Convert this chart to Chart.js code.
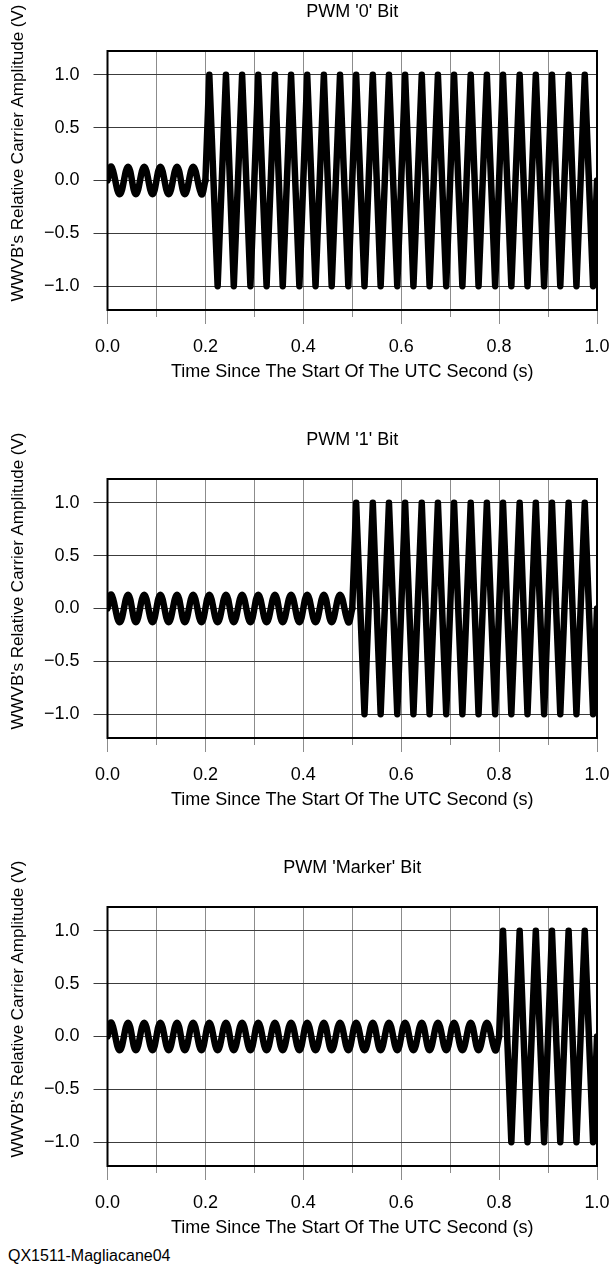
<!DOCTYPE html>
<html>
<head>
<meta charset="utf-8">
<title>WWVB PWM bits</title>
<script src="https://cdn.jsdelivr.net/npm/chart.js@4.4.0/dist/chart.umd.min.js"></script>
<style>
  body { margin: 0; background: #fff; }
  #page { position: relative; width: 611px; height: 1269px; }
  #page canvas { position: absolute; left: 0; }
  #credit { position: absolute; left: 8px; top: 1247px; font: 16px "Liberation Sans", Arial, sans-serif; color: #000; }
</style>
</head>
<body>
<div id="page">
  <canvas id="bit0" width="611" height="390" style="top:0"></canvas>
  <canvas id="bit1" width="611" height="390" style="top:428px"></canvas>
  <canvas id="bitMarker" width="611" height="390" style="top:856px"></canvas>
  <div id="credit">QX1511-Magliacane04</div>
</div>
<script>
// carrier peaks / troughs (s), plus both ends of the second
const extremaTimes = [0.000,
  0.008, 0.025, 0.042, 0.058, 0.075, 0.092, 0.108, 0.125, 0.142, 0.158, 0.175, 0.192,
  0.208, 0.225, 0.242, 0.258, 0.275, 0.292, 0.308, 0.325, 0.342, 0.358, 0.375, 0.392,
  0.408, 0.425, 0.442, 0.458, 0.475, 0.492, 0.508, 0.525, 0.542, 0.558, 0.575, 0.592,
  0.608, 0.625, 0.642, 0.658, 0.675, 0.692, 0.708, 0.725, 0.742, 0.758, 0.775, 0.792,
  0.808, 0.825, 0.842, 0.858, 0.875, 0.892, 0.908, 0.925, 0.942, 0.958, 0.975, 0.992,
  1.000];

const xTickValues = [0, 0.1, 0.2, 0.3, 0.4, 0.5, 0.6, 0.7, 0.8, 0.9, 1.0];
const xTickLabels = ['0.0', '', '0.2', '', '0.4', '', '0.6', '', '0.8', '', '1.0'];
const yTickValues = [-1, -0.5, 0, 0.5, 1];
const yTickLabels = ['\u22121.0', '\u22120.5', '0.0', '0.5', '1.0'];

const panelTitles = ["PWM '0' Bit", "PWM '1' Bit", "PWM 'Marker' Bit"];
const bitEdges = [0.2, 0.5, 0.8]; // full carrier comes back here

// amplitude at each entry of extremaTimes
const zeroBitValues = [0,
  0.13, -0.13, 0.13, -0.13, 0.13, -0.13, 0.13, -0.13, 0.13, -0.13, 0.13, -0.13,
  1, -1, 1, -1, 1, -1, 1, -1, 1, -1, 1, -1,
  1, -1, 1, -1, 1, -1, 1, -1, 1, -1, 1, -1,
  1, -1, 1, -1, 1, -1, 1, -1, 1, -1, 1, -1,
  1, -1, 1, -1, 1, -1, 1, -1, 1, -1, 1, -1,
  0];
const oneBitValues = [0,
  0.13, -0.13, 0.13, -0.13, 0.13, -0.13, 0.13, -0.13, 0.13, -0.13, 0.13, -0.13,
  0.13, -0.13, 0.13, -0.13, 0.13, -0.13, 0.13, -0.13, 0.13, -0.13, 0.13, -0.13,
  0.13, -0.13, 0.13, -0.13, 0.13, -0.13, 1, -1, 1, -1, 1, -1,
  1, -1, 1, -1, 1, -1, 1, -1, 1, -1, 1, -1,
  1, -1, 1, -1, 1, -1, 1, -1, 1, -1, 1, -1,
  0];
const markerBitValues = [0,
  0.13, -0.13, 0.13, -0.13, 0.13, -0.13, 0.13, -0.13, 0.13, -0.13, 0.13, -0.13,
  0.13, -0.13, 0.13, -0.13, 0.13, -0.13, 0.13, -0.13, 0.13, -0.13, 0.13, -0.13,
  0.13, -0.13, 0.13, -0.13, 0.13, -0.13, 0.13, -0.13, 0.13, -0.13, 0.13, -0.13,
  0.13, -0.13, 0.13, -0.13, 0.13, -0.13, 0.13, -0.13, 0.13, -0.13, 0.13, -0.13,
  1, -1, 1, -1, 1, -1, 1, -1, 1, -1, 1, -1,
  0];

const yTitle = "WWVB's Relative Carrier Amplitude (V)";

Chart.defaults.font.family = "'Liberation Sans', Arial, sans-serif";
Chart.defaults.font.size = 18;
Chart.defaults.color = '#000';

const gridGrey = '#8c8c8c';
const gridDark = '#3c3c3c';

// box round the plot, the short minor ticks under it, and the y title
// (which sits a bit above the plot's middle in the original)
const framePlugin = {
  id: 'frame',
  afterDatasetsDraw(chart) {
    const { ctx, chartArea: a, scales: { x } } = chart;
    ctx.save();
    ctx.strokeStyle = gridGrey;
    ctx.lineWidth = 1;
    xTickValues.forEach((v, i) => {
      if (xTickLabels[i]) return;
      const px = Math.round(x.getPixelForValue(v)) + 0.5;
      ctx.beginPath();
      ctx.moveTo(px, a.bottom);
      ctx.lineTo(px, a.bottom + 7);
      ctx.stroke();
    });
    ctx.strokeStyle = '#000';
    ctx.lineWidth = 2;
    ctx.strokeRect(a.left, a.top, a.right - a.left, a.bottom - a.top);

    ctx.translate(18, 153);
    ctx.rotate(-Math.PI / 2);
    ctx.font = "17px 'Liberation Sans', Arial, sans-serif";
    ctx.fillStyle = '#000';
    ctx.textAlign = 'center';
    ctx.textBaseline = 'middle';
    ctx.fillText(yTitle, 0, 0);
    ctx.restore();
  }
};

function splitWave(values, edge) {
  const low = [], high = [];
  extremaTimes.forEach((t, i) => {
    if (t < edge) low.push({ x: t, y: values[i] });
    else high.push({ x: t, y: values[i] });
  });
  low.push({ x: edge, y: 0 });
  high.unshift({ x: edge, y: 0 });
  return [low, high];
}

function makePanel(canvasId, title, values, edge) {
  const [low, high] = splitWave(values, edge);
  const line = {
    xAxisID: 'x',
    yAxisID: 'y',
    borderColor: '#000',
    borderWidth: 6.5,
    borderJoinStyle: 'round',
    borderCapStyle: 'round',
    pointRadius: 0,
    fill: false
  };
  new Chart(document.getElementById(canvasId), {
    type: 'line',
    data: {
      datasets: [
        Object.assign({ label: 'reduced carrier', data: low, tension: 0.4 }, line),
        Object.assign({ label: 'full carrier', data: high, tension: 0 }, line)
      ]
    },
    options: {
      responsive: false,
      animation: false,
      devicePixelRatio: 1,
      layout: { padding: { left: 0, right: 14, top: 0, bottom: 0 } },
      plugins: {
        legend: { display: false },
        tooltip: { enabled: false },
        title: { display: false }
      },
      scales: {
        // only carries the panel title, centred over the plot
        top: {
          type: 'linear',
          position: 'top',
          min: 0,
          max: 1,
          afterFit: s => { s.height = 51; },
          grid: { display: false },
          border: { display: false },
          ticks: { display: false },
          title: {
            display: true,
            text: title,
            padding: { top: 1.2, bottom: 0 }
          }
        },
        x: {
          type: 'linear',
          position: 'bottom',
          min: 0,
          max: 1,
          afterBuildTicks: s => { s.ticks = xTickValues.map(v => ({ value: v })); },
          afterFit: s => {
            s.height = 80;
            s.paddingLeft = 0;
            s.paddingRight = 0;
          },
          border: { display: false },
          grid: {
            color: gridGrey,
            lineWidth: 1,
            tickLength: 14,
            tickColor: c => (xTickLabels[c.index] ? gridGrey : 'rgba(0,0,0,0)')
          },
          ticks: {
            autoSkip: false,
            maxRotation: 0,
            padding: 12,
            callback: (v, i) => xTickLabels[i]
          },
          title: {
            display: true,
            text: 'Time Since The Start Of The UTC Second (s)',
            padding: { top: 0, bottom: 7 }
          }
        },
        y: {
          type: 'linear',
          min: -1.225,
          max: 1.225,
          afterBuildTicks: s => { s.ticks = yTickValues.map(v => ({ value: v })); },
          afterFit: s => { s.width = 107.5; },
          border: { display: false },
          grid: {
            color: gridDark,
            lineWidth: 1,
            tickLength: 14,
            tickColor: gridDark
          },
          ticks: {
            padding: 14,
            callback: (v, i) => yTickLabels[i]
          },
          title: { display: false }
        }
      }
    },
    plugins: [framePlugin]
  });
}

makePanel('bit0', panelTitles[0], zeroBitValues, bitEdges[0]);
makePanel('bit1', panelTitles[1], oneBitValues, bitEdges[1]);
makePanel('bitMarker', panelTitles[2], markerBitValues, bitEdges[2]);
</script>
</body>
</html>
